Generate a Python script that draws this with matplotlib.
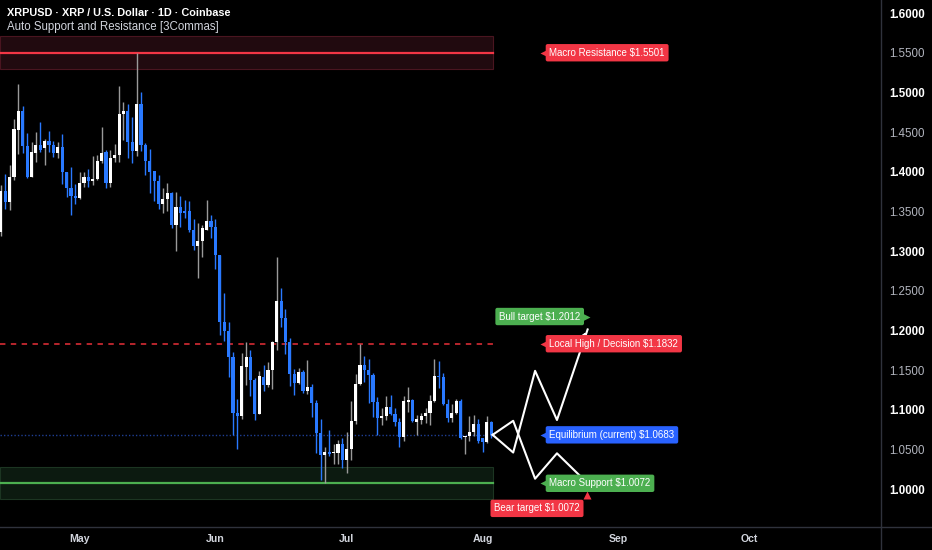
import pandas as pd
import matplotlib
matplotlib.use("Agg")
import matplotlib.pyplot as plt
import matplotlib.dates as mdates
from matplotlib.patches import Rectangle
from matplotlib.lines import Line2D

# daily candles, XRPUSD
opens = [1.324, 1.376, 1.362, 1.393, 1.453, 1.477, 1.433, 1.394, 1.424, 1.434,
         1.430, 1.439, 1.434, 1.424, 1.431, 1.400, 1.380, 1.369, 1.367, 1.386,
         1.394, 1.388, 1.391, 1.413, 1.425, 1.386, 1.418, 1.421, 1.473, 1.477,
         1.437, 1.426, 1.485, 1.434, 1.413, 1.401, 1.389, 1.360, 1.366, 1.373,
         1.333, 1.356, 1.350, 1.350, 1.327, 1.306, 1.313, 1.327, 1.338, 1.331,
         1.295, 1.210, 1.199, 1.167, 1.096, 1.092, 1.154, 1.167, 1.137, 1.095,
         1.141, 1.131, 1.150, 1.185, 1.237, 1.215, 1.185, 1.145, 1.134, 1.148,
         1.123, 1.128, 1.108, 1.071, 1.043, 1.047, 1.045, 1.046, 1.057, 1.037,
         1.051, 1.086, 1.133, 1.156, 1.150, 1.144, 1.110, 1.089, 1.092, 1.104,
         1.095, 1.085, 1.066, 1.110, 1.112, 1.085, 1.087, 1.092, 1.096, 1.111,
         1.142, 1.141, 1.107, 1.090, 1.096, 1.111, 1.065, 1.067, 1.072, 1.082,
         1.064, 1.059, 1.085]
highs = [1.383, 1.397, 1.409, 1.467, 1.511, 1.483, 1.449, 1.438, 1.450, 1.463,
         1.441, 1.451, 1.439, 1.438, 1.448, 1.400, 1.406, 1.384, 1.400, 1.400,
         1.404, 1.420, 1.421, 1.457, 1.427, 1.427, 1.435, 1.508, 1.488, 1.485,
         1.469, 1.5501, 1.500, 1.436, 1.429, 1.401, 1.396, 1.379, 1.386, 1.375,
         1.374, 1.369, 1.364, 1.363, 1.340, 1.336, 1.333, 1.364, 1.345, 1.341,
         1.295, 1.247, 1.210, 1.173, 1.113, 1.171, 1.185, 1.175, 1.140, 1.149,
         1.156, 1.160, 1.187, 1.292, 1.254, 1.227, 1.190, 1.151, 1.153, 1.150,
         1.163, 1.132, 1.112, 1.088, 1.053, 1.075, 1.057, 1.062, 1.064, 1.072,
         1.111, 1.145, 1.183, 1.168, 1.164, 1.146, 1.116, 1.102, 1.117, 1.119,
         1.102, 1.090, 1.117, 1.129, 1.113, 1.093, 1.096, 1.102, 1.118, 1.164,
         1.161, 1.146, 1.114, 1.107, 1.114, 1.114, 1.067, 1.092, 1.093, 1.088,
         1.064, 1.092, 1.086]
lows = [1.319, 1.353, 1.352, 1.390, 1.423, 1.424, 1.392, 1.393, 1.412, 1.425,
        1.409, 1.425, 1.419, 1.418, 1.384, 1.368, 1.346, 1.359, 1.366, 1.381,
        1.381, 1.383, 1.390, 1.411, 1.380, 1.381, 1.412, 1.412, 1.440, 1.417,
        1.411, 1.420, 1.426, 1.396, 1.373, 1.363, 1.353, 1.348, 1.351, 1.329,
        1.300, 1.331, 1.342, 1.324, 1.301, 1.266, 1.293, 1.327, 1.316, 1.277,
        1.194, 1.186, 1.141, 1.068, 1.050, 1.088, 1.131, 1.117, 1.087, 1.094,
        1.124, 1.129, 1.126, 1.175, 1.204, 1.170, 1.130, 1.118, 1.133, 1.121,
        1.120, 1.091, 1.045, 1.011, 1.007, 1.042, 1.031, 1.031, 1.026, 1.020,
        1.037, 1.082, 1.131, 1.135, 1.108, 1.091, 1.068, 1.081, 1.087, 1.093,
        1.079, 1.053, 1.060, 1.097, 1.085, 1.068, 1.082, 1.083, 1.081, 1.110,
        1.127, 1.106, 1.084, 1.084, 1.094, 1.063, 1.044, 1.061, 1.067, 1.058,
        1.047, 1.058, 1.064]
closes = [1.376, 1.362, 1.393, 1.454, 1.477, 1.433, 1.394, 1.425, 1.434, 1.427,
          1.439, 1.434, 1.424, 1.431, 1.400, 1.380, 1.369, 1.367, 1.386, 1.393,
          1.388, 1.391, 1.413, 1.424, 1.386, 1.418, 1.421, 1.473, 1.477, 1.437,
          1.426, 1.485, 1.434, 1.413, 1.400, 1.389, 1.360, 1.366, 1.373, 1.333,
          1.356, 1.348, 1.348, 1.327, 1.306, 1.313, 1.329, 1.338, 1.331, 1.295,
          1.210, 1.199, 1.167, 1.096, 1.092, 1.155, 1.167, 1.137, 1.095, 1.142,
          1.131, 1.150, 1.185, 1.237, 1.215, 1.185, 1.145, 1.134, 1.148, 1.123,
          1.128, 1.108, 1.071, 1.043, 1.047, 1.044, 1.047, 1.057, 1.037, 1.051,
          1.086, 1.133, 1.156, 1.150, 1.144, 1.110, 1.089, 1.092, 1.104, 1.095,
          1.085, 1.066, 1.111, 1.112, 1.086, 1.088, 1.092, 1.096, 1.111, 1.142,
          1.141, 1.107, 1.090, 1.096, 1.111, 1.064, 1.067, 1.072, 1.082, 1.061,
          1.059, 1.085, 1.0683]
start_date = "2025-04-13"

# levels from the indicator
macro_res = 1.5501
res_zone = (1.5296, 1.5712)
macro_sup = 1.0072
sup_zone = (0.9874, 1.0277)
local_high = 1.1832
equilibrium = 1.0683
bull_target = 1.2012
bear_target = 1.0072

# projected paths (days after last candle)
proj_days = [0.3, 5, 10, 15, 22]
bull_path = [1.0683, 1.046, 1.149, 1.087, 1.2012]
bear_path = [1.0683, 1.086, 1.013, 1.045, 1.0072]

price_ticks = [1.00, 1.05, 1.10, 1.15, 1.20, 1.25, 1.30, 1.35, 1.40, 1.45, 1.50, 1.55, 1.60]
month_ticks = ["2025-05-01", "2025-06-01", "2025-07-01", "2025-08-01", "2025-09-01", "2025-10-01"]
month_labels = ["May", "Jun", "Jul", "Aug", "Sep", "Oct"]

BG = "#000000"
RED = "#f23645"
GREEN = "#4caf50"
BLUE = "#2962ff"
CANDLE_BLUE = "#2979ff"
SEP = "#2f323c"
FONT = "Liberation Sans"

dates = pd.date_range(start_date, periods=len(closes), freq="D")
x = mdates.date2num(dates)
last = x[-1]
may1 = mdates.date2num(pd.Timestamp(month_ticks[0]))

fig = plt.figure(figsize=(9.32, 5.5), dpi=100, facecolor=BG)
ax = fig.add_axes([0, 23 / 550, 881 / 932, 527 / 550], facecolor=BG)
ax.set_xlim(may1 - 18.2, may1 + 183.0)
ax.set_ylim(0.9521, 1.6166)

zone_end = last + 0.3
x0 = ax.get_xlim()[0]

# resistance / support zones
ax.add_patch(Rectangle((x0, res_zone[0]), zone_end - x0, res_zone[1] - res_zone[0],
                       facecolor="#210a0f", edgecolor="#4a1520", lw=0.8, zorder=1))
ax.add_patch(Rectangle((x0, sup_zone[0]), zone_end - x0, sup_zone[1] - sup_zone[0],
                       facecolor="#0c1a10", edgecolor="#1c3522", lw=0.8, zorder=1))
ax.plot([x0, zone_end], [macro_res, macro_res], color=RED, lw=1.6, zorder=2)
ax.plot([x0, zone_end], [macro_sup, macro_sup], color=GREEN, lw=1.6, zorder=2)
ax.plot([x0, zone_end], [local_high, local_high], color="#c62830", lw=1.3,
        ls=(0, (3, 3)), zorder=2)
ax.plot([x0, zone_end], [equilibrium, equilibrium], color="#1f3f95", lw=1.0,
        ls=(0, (1, 1.5)), zorder=2)

# candles
up = [c >= o for o, c in zip(opens, closes)]
body_col = ["#ffffff" if u else CANDLE_BLUE for u in up]
wick_col = ["#9a9a9a" if u else CANDLE_BLUE for u in up]
bottoms = [min(o, c) for o, c in zip(opens, closes)]
heights = [max(abs(c - o), 0.0015) for o, c in zip(opens, closes)]
ax.vlines(x, lows, highs, colors=wick_col, lw=1.0, zorder=3)
ax.bar(x, heights, bottom=bottoms, width=0.72, color=body_col, linewidth=0, zorder=4)

# projection zig-zags
px = [last + d for d in proj_days]
ax.plot(px, bull_path, color="white", lw=1.5, zorder=5)
ax.plot(px, bear_path, color="white", lw=1.5, zorder=5)
ax.annotate("", xy=(px[-1], bull_path[-1]), xytext=(px[-1] - 1.2, bull_path[-1] - 0.012),
            arrowprops=dict(arrowstyle="->", color="white", lw=1.5, mutation_scale=9), zorder=5)


def tag(xd, y, text, color, side="left"):
    fs = 7.0
    box = dict(boxstyle="round,pad=0.38,rounding_size=0.2", fc=color, ec="none")
    if side == "left":
        ax.plot(xd, y, marker="<", ms=6, color=color, mec="none", zorder=6)
        ax.annotate(text, (xd, y), xytext=(4, 0), textcoords="offset points", ha="left",
                    va="center", color="white", fontsize=fs, family=FONT, bbox=box, zorder=7)
    elif side == "right":
        ax.plot(xd, y, marker=">", ms=6, color=color, mec="none", zorder=6)
        ax.annotate(text, (xd, y), xytext=(-4, 0), textcoords="offset points", ha="right",
                    va="center", color="white", fontsize=fs, family=FONT, bbox=box, zorder=7)
    else:
        ax.plot(xd, y, marker="^", ms=6, color=color, mec="none", zorder=6)
        ax.annotate(text, (xd, y), xytext=(-5, -6), textcoords="offset points", ha="right",
                    va="top", color="white", fontsize=fs, family=FONT, bbox=box, zorder=7)


label_x = last + 12
tag(label_x, macro_res, f"Macro Resistance ${macro_res:.4f}", RED)
tag(label_x, local_high, f"Local High / Decision ${local_high:.4f}", RED)
tag(label_x, equilibrium, f"Equilibrium (current) ${equilibrium:.4f}", BLUE)
tag(label_x, macro_sup, f"Macro Support ${macro_sup:.4f}", GREEN)
tag(last + 21.6, 1.2175, f"Bull target ${bull_target:.4f}", GREEN, side="right")
tag(last + 21.8, 0.9924, f"Bear target ${bear_target:.4f}", RED, side="down")

# axes
for s in ax.spines.values():
    s.set_visible(False)
ax.yaxis.tick_right()
ax.set_yticks(price_ticks)
ax.set_yticklabels([f"{v:.4f}" for v in price_ticks])
ax.tick_params(axis="y", length=0, pad=6, labelsize=8.3)
for v, lab in zip(price_ticks, ax.get_yticklabels()):
    lab.set_family(FONT)
    if round(v * 100) % 10 == 0:
        lab.set_color("white")
        lab.set_fontweight("bold")
    else:
        lab.set_color("#b2b5be")
ax.set_xticks(mdates.date2num(pd.to_datetime(month_ticks)))
ax.set_xticklabels(month_labels)
ax.tick_params(axis="x", length=0, pad=5, labelsize=7.6, labelcolor="#d1d4dc")
for lab in ax.get_xticklabels():
    lab.set_family(FONT)
    lab.set_fontweight("bold")

fig.add_artist(Line2D([881 / 932, 881 / 932], [0, 1], color=SEP, lw=1, transform=fig.transFigure))
fig.add_artist(Line2D([0, 1], [23 / 550, 23 / 550], color=SEP, lw=1, transform=fig.transFigure))

fig.text(7 / 932, 1 - 13 / 550, "XRPUSD · XRP / U.S. Dollar · 1D · Coinbase", color="white",
         fontsize=7.8, fontweight="bold", family=FONT, va="center", ha="left")
fig.text(7 / 932, 1 - 27 / 550, "Auto Support and Resistance [3Commas]", color="#d1d4dc",
         fontsize=8.3, family=FONT, va="center", ha="left")

fig.savefig("out.png", dpi=100, facecolor=BG)
